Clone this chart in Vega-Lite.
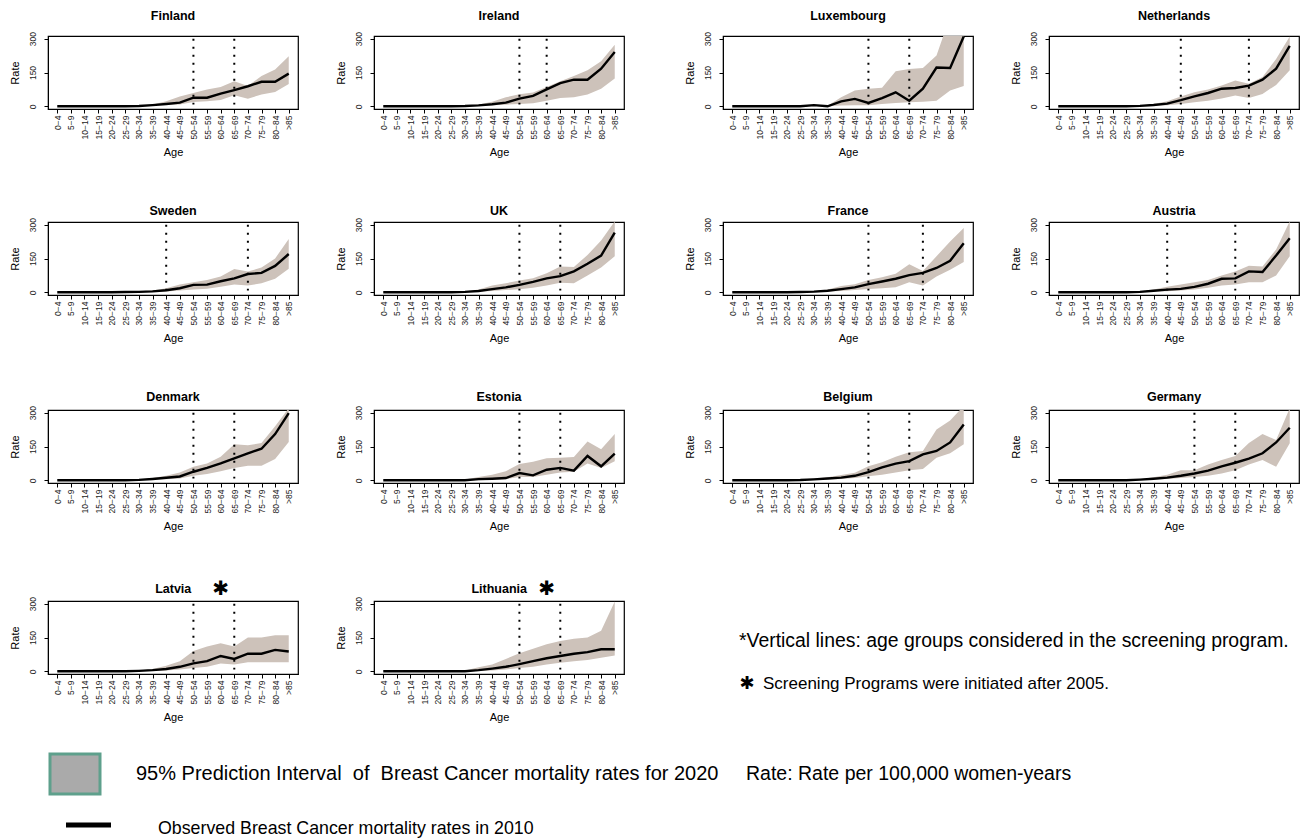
{
"$schema":"https://vega.github.io/schema/vega-lite/v6.json",
"padding":{"left":8,"top":9,"right":0,"bottom":0},
"background":"white",
"datasets":{
"rates":[
{"c":"Finland","a":"0-4","r":0,"lo":0,"hi":0},{"c":"Finland","a":"5-9","r":0,"lo":0,"hi":0},{"c":"Finland","a":"10-14","r":0,"lo":0,"hi":0},{"c":"Finland","a":"15-19","r":0,"lo":0,"hi":0},{"c":"Finland","a":"20-24","r":0,"lo":0,"hi":0},{"c":"Finland","a":"25-29","r":0,"lo":0,"hi":1},{"c":"Finland","a":"30-34","r":1,"lo":0,"hi":3},{"c":"Finland","a":"35-39","r":5,"lo":3,"hi":8},{"c":"Finland","a":"40-44","r":10,"lo":6,"hi":22},{"c":"Finland","a":"45-49","r":16,"lo":8,"hi":44},{"c":"Finland","a":"50-54","r":38,"lo":19,"hi":59},{"c":"Finland","a":"55-59","r":38,"lo":22,"hi":74},{"c":"Finland","a":"60-64","r":56,"lo":28,"hi":86},{"c":"Finland","a":"65-69","r":72,"lo":49,"hi":111},{"c":"Finland","a":"70-74","r":89,"lo":34,"hi":90},{"c":"Finland","a":"75-79","r":109,"lo":52,"hi":135},{"c":"Finland","a":"80-84","r":109,"lo":64,"hi":163},{"c":"Finland","a":">85","r":145,"lo":99,"hi":222},
{"c":"Ireland","a":"0-4","r":0,"lo":0,"hi":0},{"c":"Ireland","a":"5-9","r":0,"lo":0,"hi":0},{"c":"Ireland","a":"10-14","r":0,"lo":0,"hi":0},{"c":"Ireland","a":"15-19","r":0,"lo":0,"hi":0},{"c":"Ireland","a":"20-24","r":0,"lo":0,"hi":0},{"c":"Ireland","a":"25-29","r":0,"lo":0,"hi":1},{"c":"Ireland","a":"30-34","r":1,"lo":0,"hi":3},{"c":"Ireland","a":"35-39","r":4,"lo":2,"hi":8},{"c":"Ireland","a":"40-44","r":9,"lo":5,"hi":20},{"c":"Ireland","a":"45-49","r":16,"lo":7,"hi":40},{"c":"Ireland","a":"50-54","r":34,"lo":10,"hi":53},{"c":"Ireland","a":"55-59","r":46,"lo":13,"hi":61},{"c":"Ireland","a":"60-64","r":75,"lo":25,"hi":86},{"c":"Ireland","a":"65-69","r":103,"lo":37,"hi":111},{"c":"Ireland","a":"70-74","r":118,"lo":40,"hi":134},{"c":"Ireland","a":"75-79","r":118,"lo":52,"hi":160},{"c":"Ireland","a":"80-84","r":167,"lo":78,"hi":200},{"c":"Ireland","a":">85","r":241,"lo":123,"hi":273},
{"c":"Luxembourg","a":"0-4","r":0,"lo":0,"hi":0},{"c":"Luxembourg","a":"5-9","r":0,"lo":0,"hi":0},{"c":"Luxembourg","a":"10-14","r":0,"lo":0,"hi":0},{"c":"Luxembourg","a":"15-19","r":0,"lo":0,"hi":0},{"c":"Luxembourg","a":"20-24","r":0,"lo":0,"hi":0},{"c":"Luxembourg","a":"25-29","r":0,"lo":0,"hi":0},{"c":"Luxembourg","a":"30-34","r":5,"lo":0,"hi":5},{"c":"Luxembourg","a":"35-39","r":0,"lo":0,"hi":2},{"c":"Luxembourg","a":"40-44","r":22,"lo":3,"hi":40},{"c":"Luxembourg","a":"45-49","r":33,"lo":5,"hi":70},{"c":"Luxembourg","a":"50-54","r":15,"lo":5,"hi":78},{"c":"Luxembourg","a":"55-59","r":36,"lo":10,"hi":82},{"c":"Luxembourg","a":"60-64","r":62,"lo":15,"hi":155},{"c":"Luxembourg","a":"65-69","r":25,"lo":18,"hi":165},{"c":"Luxembourg","a":"70-74","r":78,"lo":20,"hi":170},{"c":"Luxembourg","a":"75-79","r":172,"lo":25,"hi":225},{"c":"Luxembourg","a":"80-84","r":170,"lo":70,"hi":400},{"c":"Luxembourg","a":">85","r":310,"lo":90,"hi":400},
{"c":"Netherlands","a":"0-4","r":0,"lo":0,"hi":0},{"c":"Netherlands","a":"5-9","r":0,"lo":0,"hi":0},{"c":"Netherlands","a":"10-14","r":0,"lo":0,"hi":0},{"c":"Netherlands","a":"15-19","r":0,"lo":0,"hi":0},{"c":"Netherlands","a":"20-24","r":0,"lo":0,"hi":0},{"c":"Netherlands","a":"25-29","r":0,"lo":0,"hi":1},{"c":"Netherlands","a":"30-34","r":2,"lo":0,"hi":4},{"c":"Netherlands","a":"35-39","r":6,"lo":2,"hi":10},{"c":"Netherlands","a":"40-44","r":12,"lo":5,"hi":22},{"c":"Netherlands","a":"45-49","r":27,"lo":10,"hi":44},{"c":"Netherlands","a":"50-54","r":44,"lo":18,"hi":62},{"c":"Netherlands","a":"55-59","r":59,"lo":25,"hi":74},{"c":"Netherlands","a":"60-64","r":78,"lo":35,"hi":92},{"c":"Netherlands","a":"65-69","r":81,"lo":48,"hi":115},{"c":"Netherlands","a":"70-74","r":92,"lo":37,"hi":100},{"c":"Netherlands","a":"75-79","r":118,"lo":55,"hi":130},{"c":"Netherlands","a":"80-84","r":167,"lo":95,"hi":210},{"c":"Netherlands","a":">85","r":268,"lo":160,"hi":310},
{"c":"Sweden","a":"0-4","r":0,"lo":0,"hi":0},{"c":"Sweden","a":"5-9","r":0,"lo":0,"hi":0},{"c":"Sweden","a":"10-14","r":0,"lo":0,"hi":0},{"c":"Sweden","a":"15-19","r":0,"lo":0,"hi":0},{"c":"Sweden","a":"20-24","r":0,"lo":0,"hi":1},{"c":"Sweden","a":"25-29","r":1,"lo":0,"hi":3},{"c":"Sweden","a":"30-34","r":2,"lo":0,"hi":5},{"c":"Sweden","a":"35-39","r":4,"lo":2,"hi":8},{"c":"Sweden","a":"40-44","r":9,"lo":4,"hi":18},{"c":"Sweden","a":"45-49","r":18,"lo":8,"hi":35},{"c":"Sweden","a":"50-54","r":33,"lo":12,"hi":45},{"c":"Sweden","a":"55-59","r":34,"lo":16,"hi":55},{"c":"Sweden","a":"60-64","r":49,"lo":25,"hi":70},{"c":"Sweden","a":"65-69","r":62,"lo":35,"hi":103},{"c":"Sweden","a":"70-74","r":81,"lo":30,"hi":92},{"c":"Sweden","a":"75-79","r":86,"lo":40,"hi":110},{"c":"Sweden","a":"80-84","r":117,"lo":60,"hi":150},{"c":"Sweden","a":">85","r":170,"lo":105,"hi":237},
{"c":"UK","a":"0-4","r":0,"lo":0,"hi":0},{"c":"UK","a":"5-9","r":0,"lo":0,"hi":0},{"c":"UK","a":"10-14","r":0,"lo":0,"hi":0},{"c":"UK","a":"15-19","r":0,"lo":0,"hi":0},{"c":"UK","a":"20-24","r":0,"lo":0,"hi":0},{"c":"UK","a":"25-29","r":0,"lo":0,"hi":1},{"c":"UK","a":"30-34","r":2,"lo":0,"hi":4},{"c":"UK","a":"35-39","r":6,"lo":2,"hi":12},{"c":"UK","a":"40-44","r":14,"lo":6,"hi":30},{"c":"UK","a":"45-49","r":22,"lo":10,"hi":40},{"c":"UK","a":"50-54","r":33,"lo":14,"hi":52},{"c":"UK","a":"55-59","r":46,"lo":20,"hi":62},{"c":"UK","a":"60-64","r":62,"lo":30,"hi":85},{"c":"UK","a":"65-69","r":72,"lo":42,"hi":115},{"c":"UK","a":"70-74","r":93,"lo":40,"hi":112},{"c":"UK","a":"75-79","r":127,"lo":75,"hi":165},{"c":"UK","a":"80-84","r":163,"lo":110,"hi":230},{"c":"UK","a":">85","r":265,"lo":160,"hi":315},
{"c":"France","a":"0-4","r":0,"lo":0,"hi":0},{"c":"France","a":"5-9","r":0,"lo":0,"hi":0},{"c":"France","a":"10-14","r":0,"lo":0,"hi":0},{"c":"France","a":"15-19","r":0,"lo":0,"hi":0},{"c":"France","a":"20-24","r":0,"lo":0,"hi":1},{"c":"France","a":"25-29","r":1,"lo":0,"hi":2},{"c":"France","a":"30-34","r":3,"lo":1,"hi":5},{"c":"France","a":"35-39","r":7,"lo":3,"hi":12},{"c":"France","a":"40-44","r":14,"lo":6,"hi":28},{"c":"France","a":"45-49","r":22,"lo":10,"hi":36},{"c":"France","a":"50-54","r":36,"lo":15,"hi":55},{"c":"France","a":"55-59","r":48,"lo":18,"hi":67},{"c":"France","a":"60-64","r":60,"lo":22,"hi":82},{"c":"France","a":"65-69","r":76,"lo":45,"hi":125},{"c":"France","a":"70-74","r":86,"lo":30,"hi":95},{"c":"France","a":"75-79","r":108,"lo":70,"hi":160},{"c":"France","a":"80-84","r":140,"lo":100,"hi":225},{"c":"France","a":">85","r":218,"lo":135,"hi":285},
{"c":"Austria","a":"0-4","r":0,"lo":0,"hi":0},{"c":"Austria","a":"5-9","r":0,"lo":0,"hi":0},{"c":"Austria","a":"10-14","r":0,"lo":0,"hi":0},{"c":"Austria","a":"15-19","r":0,"lo":0,"hi":0},{"c":"Austria","a":"20-24","r":0,"lo":0,"hi":0},{"c":"Austria","a":"25-29","r":0,"lo":0,"hi":1},{"c":"Austria","a":"30-34","r":2,"lo":0,"hi":4},{"c":"Austria","a":"35-39","r":7,"lo":3,"hi":12},{"c":"Austria","a":"40-44","r":12,"lo":5,"hi":25},{"c":"Austria","a":"45-49","r":15,"lo":8,"hi":35},{"c":"Austria","a":"50-54","r":24,"lo":12,"hi":45},{"c":"Austria","a":"55-59","r":38,"lo":20,"hi":55},{"c":"Austria","a":"60-64","r":60,"lo":30,"hi":75},{"c":"Austria","a":"65-69","r":62,"lo":35,"hi":92},{"c":"Austria","a":"70-74","r":93,"lo":45,"hi":118},{"c":"Austria","a":"75-79","r":90,"lo":45,"hi":115},{"c":"Austria","a":"80-84","r":163,"lo":75,"hi":190},{"c":"Austria","a":">85","r":240,"lo":160,"hi":315},
{"c":"Denmark","a":"0-4","r":0,"lo":0,"hi":0},{"c":"Denmark","a":"5-9","r":0,"lo":0,"hi":0},{"c":"Denmark","a":"10-14","r":0,"lo":0,"hi":0},{"c":"Denmark","a":"15-19","r":0,"lo":0,"hi":0},{"c":"Denmark","a":"20-24","r":0,"lo":0,"hi":0},{"c":"Denmark","a":"25-29","r":0,"lo":0,"hi":1},{"c":"Denmark","a":"30-34","r":2,"lo":0,"hi":4},{"c":"Denmark","a":"35-39","r":6,"lo":3,"hi":10},{"c":"Denmark","a":"40-44","r":11,"lo":5,"hi":20},{"c":"Denmark","a":"45-49","r":17,"lo":8,"hi":35},{"c":"Denmark","a":"50-54","r":38,"lo":20,"hi":60},{"c":"Denmark","a":"55-59","r":55,"lo":28,"hi":75},{"c":"Denmark","a":"60-64","r":75,"lo":40,"hi":105},{"c":"Denmark","a":"65-69","r":97,"lo":55,"hi":160},{"c":"Denmark","a":"70-74","r":120,"lo":65,"hi":155},{"c":"Denmark","a":"75-79","r":140,"lo":65,"hi":165},{"c":"Denmark","a":"80-84","r":205,"lo":95,"hi":240},{"c":"Denmark","a":">85","r":298,"lo":170,"hi":320},
{"c":"Estonia","a":"0-4","r":0,"lo":0,"hi":0},{"c":"Estonia","a":"5-9","r":0,"lo":0,"hi":0},{"c":"Estonia","a":"10-14","r":0,"lo":0,"hi":0},{"c":"Estonia","a":"15-19","r":0,"lo":0,"hi":0},{"c":"Estonia","a":"20-24","r":0,"lo":0,"hi":0},{"c":"Estonia","a":"25-29","r":0,"lo":0,"hi":0},{"c":"Estonia","a":"30-34","r":0,"lo":0,"hi":3},{"c":"Estonia","a":"35-39","r":5,"lo":0,"hi":15},{"c":"Estonia","a":"40-44","r":7,"lo":2,"hi":25},{"c":"Estonia","a":"45-49","r":10,"lo":5,"hi":40},{"c":"Estonia","a":"50-54","r":32,"lo":15,"hi":72},{"c":"Estonia","a":"55-59","r":22,"lo":15,"hi":82},{"c":"Estonia","a":"60-64","r":47,"lo":25,"hi":98},{"c":"Estonia","a":"65-69","r":55,"lo":35,"hi":100},{"c":"Estonia","a":"70-74","r":43,"lo":38,"hi":103},{"c":"Estonia","a":"75-79","r":108,"lo":75,"hi":172},{"c":"Estonia","a":"80-84","r":62,"lo":55,"hi":138},{"c":"Estonia","a":">85","r":118,"lo":85,"hi":205},
{"c":"Belgium","a":"0-4","r":0,"lo":0,"hi":0},{"c":"Belgium","a":"5-9","r":0,"lo":0,"hi":0},{"c":"Belgium","a":"10-14","r":0,"lo":0,"hi":0},{"c":"Belgium","a":"15-19","r":0,"lo":0,"hi":0},{"c":"Belgium","a":"20-24","r":0,"lo":0,"hi":1},{"c":"Belgium","a":"25-29","r":1,"lo":0,"hi":3},{"c":"Belgium","a":"30-34","r":4,"lo":1,"hi":8},{"c":"Belgium","a":"35-39","r":8,"lo":4,"hi":14},{"c":"Belgium","a":"40-44","r":12,"lo":6,"hi":24},{"c":"Belgium","a":"45-49","r":20,"lo":10,"hi":34},{"c":"Belgium","a":"50-54","r":36,"lo":18,"hi":62},{"c":"Belgium","a":"55-59","r":57,"lo":25,"hi":80},{"c":"Belgium","a":"60-64","r":74,"lo":35,"hi":105},{"c":"Belgium","a":"65-69","r":85,"lo":45,"hi":125},{"c":"Belgium","a":"70-74","r":115,"lo":50,"hi":130},{"c":"Belgium","a":"75-79","r":130,"lo":100,"hi":225},{"c":"Belgium","a":"80-84","r":168,"lo":120,"hi":265},{"c":"Belgium","a":">85","r":248,"lo":160,"hi":330},
{"c":"Germany","a":"0-4","r":0,"lo":0,"hi":0},{"c":"Germany","a":"5-9","r":0,"lo":0,"hi":0},{"c":"Germany","a":"10-14","r":0,"lo":0,"hi":0},{"c":"Germany","a":"15-19","r":0,"lo":0,"hi":0},{"c":"Germany","a":"20-24","r":0,"lo":0,"hi":0},{"c":"Germany","a":"25-29","r":0,"lo":0,"hi":1},{"c":"Germany","a":"30-34","r":3,"lo":1,"hi":5},{"c":"Germany","a":"35-39","r":7,"lo":3,"hi":14},{"c":"Germany","a":"40-44","r":12,"lo":6,"hi":25},{"c":"Germany","a":"45-49","r":20,"lo":10,"hi":45},{"c":"Germany","a":"50-54","r":30,"lo":15,"hi":45},{"c":"Germany","a":"55-59","r":43,"lo":20,"hi":70},{"c":"Germany","a":"60-64","r":62,"lo":30,"hi":90},{"c":"Germany","a":"65-69","r":78,"lo":45,"hi":108},{"c":"Germany","a":"70-74","r":96,"lo":70,"hi":165},{"c":"Germany","a":"75-79","r":120,"lo":90,"hi":205},{"c":"Germany","a":"80-84","r":168,"lo":60,"hi":179},{"c":"Germany","a":">85","r":233,"lo":164,"hi":320},
{"c":"Latvia","a":"0-4","r":0,"lo":0,"hi":0},{"c":"Latvia","a":"5-9","r":0,"lo":0,"hi":0},{"c":"Latvia","a":"10-14","r":0,"lo":0,"hi":0},{"c":"Latvia","a":"15-19","r":0,"lo":0,"hi":0},{"c":"Latvia","a":"20-24","r":0,"lo":0,"hi":0},{"c":"Latvia","a":"25-29","r":0,"lo":0,"hi":1},{"c":"Latvia","a":"30-34","r":2,"lo":0,"hi":4},{"c":"Latvia","a":"35-39","r":5,"lo":1,"hi":10},{"c":"Latvia","a":"40-44","r":10,"lo":3,"hi":25},{"c":"Latvia","a":"45-49","r":20,"lo":8,"hi":45},{"c":"Latvia","a":"50-54","r":35,"lo":15,"hi":90},{"c":"Latvia","a":"55-59","r":45,"lo":20,"hi":110},{"c":"Latvia","a":"60-64","r":68,"lo":35,"hi":125},{"c":"Latvia","a":"65-69","r":55,"lo":30,"hi":110},{"c":"Latvia","a":"70-74","r":78,"lo":40,"hi":150},{"c":"Latvia","a":"75-79","r":78,"lo":40,"hi":150},{"c":"Latvia","a":"80-84","r":95,"lo":40,"hi":160},{"c":"Latvia","a":">85","r":88,"lo":40,"hi":160},
{"c":"Lithuania","a":"0-4","r":0,"lo":0,"hi":0},{"c":"Lithuania","a":"5-9","r":0,"lo":0,"hi":0},{"c":"Lithuania","a":"10-14","r":0,"lo":0,"hi":0},{"c":"Lithuania","a":"15-19","r":0,"lo":0,"hi":0},{"c":"Lithuania","a":"20-24","r":0,"lo":0,"hi":0},{"c":"Lithuania","a":"25-29","r":0,"lo":0,"hi":0},{"c":"Lithuania","a":"30-34","r":0,"lo":0,"hi":3},{"c":"Lithuania","a":"35-39","r":5,"lo":2,"hi":18},{"c":"Lithuania","a":"40-44","r":12,"lo":4,"hi":30},{"c":"Lithuania","a":"45-49","r":20,"lo":8,"hi":55},{"c":"Lithuania","a":"50-54","r":32,"lo":15,"hi":80},{"c":"Lithuania","a":"55-59","r":45,"lo":20,"hi":100},{"c":"Lithuania","a":"60-64","r":58,"lo":30,"hi":120},{"c":"Lithuania","a":"65-69","r":68,"lo":38,"hi":135},{"c":"Lithuania","a":"70-74","r":78,"lo":45,"hi":145},{"c":"Lithuania","a":"75-79","r":85,"lo":50,"hi":150},{"c":"Lithuania","a":"80-84","r":98,"lo":60,"hi":180},{"c":"Lithuania","a":">85","r":98,"lo":70,"hi":310}
],
"screen":[
{"c":"Finland","a":"50-54"},{"c":"Finland","a":"65-69"},
{"c":"Ireland","a":"50-54"},{"c":"Ireland","a":"60-64"},
{"c":"Luxembourg","a":"50-54"},{"c":"Luxembourg","a":"65-69"},
{"c":"Netherlands","a":"45-49"},{"c":"Netherlands","a":"70-74"},
{"c":"Sweden","a":"40-44"},{"c":"Sweden","a":"70-74"},
{"c":"UK","a":"50-54"},{"c":"UK","a":"65-69"},
{"c":"France","a":"50-54"},{"c":"France","a":"70-74"},
{"c":"Austria","a":"40-44"},{"c":"Austria","a":"65-69"},
{"c":"Denmark","a":"50-54"},{"c":"Denmark","a":"65-69"},
{"c":"Estonia","a":"50-54"},{"c":"Estonia","a":"65-69"},
{"c":"Belgium","a":"50-54"},{"c":"Belgium","a":"65-69"},
{"c":"Germany","a":"50-54"},{"c":"Germany","a":"65-69"},
{"c":"Latvia","a":"50-54"},{"c":"Latvia","a":"65-69"},
{"c":"Lithuania","a":"50-54"},{"c":"Lithuania","a":"65-69"}
],
"heads":[
{"c":"Latvia","a":"40-44","s":"Latvia","k":"title"},{"c":"Latvia","a":"60-64","s":"✱","k":"star"},
{"c":"Lithuania","a":"40-44","s":"Lithuania","k":"title"},{"c":"Lithuania","a":"60-64","s":"✱","k":"star"}
]
},
"vconcat":[
{"spacing":45,"vconcat":[
{"spacing":58,"hconcat":[
{"spacing":35,"hconcat":[
{"title":{"text":"Finland","offset":9},"width":250,"height":73,"encoding":{"x":{"field":"a","type":"ordinal","title":"Age","scale":{"type":"point","padding":0.68,"domain":["0-4","5-9","10-14","15-19","20-24","25-29","30-34","35-39","40-44","45-49","50-54","55-59","60-64","65-69","70-74","75-79","80-84",">85"]}}},"layer":[
{"data":{"name":"rates"},"transform":[{"filter":"datum.c==='Finland'"}],"mark":{"type":"area","color":"#cdc2ba","clip":true},"encoding":{"y":{"field":"lo","type":"quantitative","title":"Rate","scale":{"domain":[-12,312],"nice":false,"zero":false},"axis":{"values":[0,150,300],"tickCount":3,"labelOverlap":false,"title":"Rate"}},"y2":{"field":"hi"}}},
{"data":{"name":"rates"},"transform":[{"filter":"datum.c==='Finland'"}],"mark":{"type":"line","color":"black","strokeWidth":2.4,"clip":true},"encoding":{"y":{"field":"r","type":"quantitative","title":"Rate","scale":{"domain":[-12,312],"nice":false,"zero":false},"axis":{"values":[0,150,300],"tickCount":3,"labelOverlap":false,"title":"Rate"}}}},
{"data":{"name":"screen"},"transform":[{"filter":"datum.c==='Finland'"}],"mark":{"type":"rule","color":"black","strokeWidth":2,"strokeDash":[2,6]},"encoding":{"y":{"datum":300,"type":"quantitative","scale":{"domain":[-12,312],"nice":false,"zero":false},"axis":{"values":[0,150,300],"tickCount":3,"labelOverlap":false,"title":"Rate"}},"y2":{"datum":8}}}
]},
{"title":{"text":"Ireland","offset":9},"width":250,"height":73,"encoding":{"x":{"field":"a","type":"ordinal","title":"Age","scale":{"type":"point","padding":0.68,"domain":["0-4","5-9","10-14","15-19","20-24","25-29","30-34","35-39","40-44","45-49","50-54","55-59","60-64","65-69","70-74","75-79","80-84",">85"]}}},"layer":[
{"data":{"name":"rates"},"transform":[{"filter":"datum.c==='Ireland'"}],"mark":{"type":"area","color":"#cdc2ba","clip":true},"encoding":{"y":{"field":"lo","type":"quantitative","title":"Rate","scale":{"domain":[-12,312],"nice":false,"zero":false},"axis":{"values":[0,150,300],"tickCount":3,"labelOverlap":false,"title":"Rate"}},"y2":{"field":"hi"}}},
{"data":{"name":"rates"},"transform":[{"filter":"datum.c==='Ireland'"}],"mark":{"type":"line","color":"black","strokeWidth":2.4,"clip":true},"encoding":{"y":{"field":"r","type":"quantitative","title":"Rate","scale":{"domain":[-12,312],"nice":false,"zero":false},"axis":{"values":[0,150,300],"tickCount":3,"labelOverlap":false,"title":"Rate"}}}},
{"data":{"name":"screen"},"transform":[{"filter":"datum.c==='Ireland'"}],"mark":{"type":"rule","color":"black","strokeWidth":2,"strokeDash":[2,6]},"encoding":{"y":{"datum":300,"type":"quantitative","scale":{"domain":[-12,312],"nice":false,"zero":false},"axis":{"values":[0,150,300],"tickCount":3,"labelOverlap":false,"title":"Rate"}},"y2":{"datum":8}}}
]}
]},
{"spacing":35,"hconcat":[
{"title":{"text":"Luxembourg","offset":9},"width":250,"height":73,"encoding":{"x":{"field":"a","type":"ordinal","title":"Age","scale":{"type":"point","padding":0.68,"domain":["0-4","5-9","10-14","15-19","20-24","25-29","30-34","35-39","40-44","45-49","50-54","55-59","60-64","65-69","70-74","75-79","80-84",">85"]}}},"layer":[
{"data":{"name":"rates"},"transform":[{"filter":"datum.c==='Luxembourg'"}],"mark":{"type":"area","color":"#cdc2ba","clip":true},"encoding":{"y":{"field":"lo","type":"quantitative","title":"Rate","scale":{"domain":[-12,312],"nice":false,"zero":false},"axis":{"values":[0,150,300],"tickCount":3,"labelOverlap":false,"title":"Rate"}},"y2":{"field":"hi"}}},
{"data":{"name":"rates"},"transform":[{"filter":"datum.c==='Luxembourg'"}],"mark":{"type":"line","color":"black","strokeWidth":2.4,"clip":true},"encoding":{"y":{"field":"r","type":"quantitative","title":"Rate","scale":{"domain":[-12,312],"nice":false,"zero":false},"axis":{"values":[0,150,300],"tickCount":3,"labelOverlap":false,"title":"Rate"}}}},
{"data":{"name":"screen"},"transform":[{"filter":"datum.c==='Luxembourg'"}],"mark":{"type":"rule","color":"black","strokeWidth":2,"strokeDash":[2,6]},"encoding":{"y":{"datum":300,"type":"quantitative","scale":{"domain":[-12,312],"nice":false,"zero":false},"axis":{"values":[0,150,300],"tickCount":3,"labelOverlap":false,"title":"Rate"}},"y2":{"datum":8}}}
]},
{"title":{"text":"Netherlands","offset":9},"width":250,"height":73,"encoding":{"x":{"field":"a","type":"ordinal","title":"Age","scale":{"type":"point","padding":0.68,"domain":["0-4","5-9","10-14","15-19","20-24","25-29","30-34","35-39","40-44","45-49","50-54","55-59","60-64","65-69","70-74","75-79","80-84",">85"]}}},"layer":[
{"data":{"name":"rates"},"transform":[{"filter":"datum.c==='Netherlands'"}],"mark":{"type":"area","color":"#cdc2ba","clip":true},"encoding":{"y":{"field":"lo","type":"quantitative","title":"Rate","scale":{"domain":[-12,312],"nice":false,"zero":false},"axis":{"values":[0,150,300],"tickCount":3,"labelOverlap":false,"title":"Rate"}},"y2":{"field":"hi"}}},
{"data":{"name":"rates"},"transform":[{"filter":"datum.c==='Netherlands'"}],"mark":{"type":"line","color":"black","strokeWidth":2.4,"clip":true},"encoding":{"y":{"field":"r","type":"quantitative","title":"Rate","scale":{"domain":[-12,312],"nice":false,"zero":false},"axis":{"values":[0,150,300],"tickCount":3,"labelOverlap":false,"title":"Rate"}}}},
{"data":{"name":"screen"},"transform":[{"filter":"datum.c==='Netherlands'"}],"mark":{"type":"rule","color":"black","strokeWidth":2,"strokeDash":[2,6]},"encoding":{"y":{"datum":300,"type":"quantitative","scale":{"domain":[-12,312],"nice":false,"zero":false},"axis":{"values":[0,150,300],"tickCount":3,"labelOverlap":false,"title":"Rate"}},"y2":{"datum":8}}}
]}
]}
]},
{"spacing":58,"hconcat":[
{"spacing":35,"hconcat":[
{"title":{"text":"Sweden","offset":0},"width":250,"height":73,"encoding":{"x":{"field":"a","type":"ordinal","title":"Age","scale":{"type":"point","padding":0.68,"domain":["0-4","5-9","10-14","15-19","20-24","25-29","30-34","35-39","40-44","45-49","50-54","55-59","60-64","65-69","70-74","75-79","80-84",">85"]}}},"layer":[
{"data":{"name":"rates"},"transform":[{"filter":"datum.c==='Sweden'"}],"mark":{"type":"area","color":"#cdc2ba","clip":true},"encoding":{"y":{"field":"lo","type":"quantitative","title":"Rate","scale":{"domain":[-12,312],"nice":false,"zero":false},"axis":{"values":[0,150,300],"tickCount":3,"labelOverlap":false,"title":"Rate"}},"y2":{"field":"hi"}}},
{"data":{"name":"rates"},"transform":[{"filter":"datum.c==='Sweden'"}],"mark":{"type":"line","color":"black","strokeWidth":2.4,"clip":true},"encoding":{"y":{"field":"r","type":"quantitative","title":"Rate","scale":{"domain":[-12,312],"nice":false,"zero":false},"axis":{"values":[0,150,300],"tickCount":3,"labelOverlap":false,"title":"Rate"}}}},
{"data":{"name":"screen"},"transform":[{"filter":"datum.c==='Sweden'"}],"mark":{"type":"rule","color":"black","strokeWidth":2,"strokeDash":[2,6]},"encoding":{"y":{"datum":300,"type":"quantitative","scale":{"domain":[-12,312],"nice":false,"zero":false},"axis":{"values":[0,150,300],"tickCount":3,"labelOverlap":false,"title":"Rate"}},"y2":{"datum":8}}}
]},
{"title":{"text":"UK","offset":0},"width":250,"height":73,"encoding":{"x":{"field":"a","type":"ordinal","title":"Age","scale":{"type":"point","padding":0.68,"domain":["0-4","5-9","10-14","15-19","20-24","25-29","30-34","35-39","40-44","45-49","50-54","55-59","60-64","65-69","70-74","75-79","80-84",">85"]}}},"layer":[
{"data":{"name":"rates"},"transform":[{"filter":"datum.c==='UK'"}],"mark":{"type":"area","color":"#cdc2ba","clip":true},"encoding":{"y":{"field":"lo","type":"quantitative","title":"Rate","scale":{"domain":[-12,312],"nice":false,"zero":false},"axis":{"values":[0,150,300],"tickCount":3,"labelOverlap":false,"title":"Rate"}},"y2":{"field":"hi"}}},
{"data":{"name":"rates"},"transform":[{"filter":"datum.c==='UK'"}],"mark":{"type":"line","color":"black","strokeWidth":2.4,"clip":true},"encoding":{"y":{"field":"r","type":"quantitative","title":"Rate","scale":{"domain":[-12,312],"nice":false,"zero":false},"axis":{"values":[0,150,300],"tickCount":3,"labelOverlap":false,"title":"Rate"}}}},
{"data":{"name":"screen"},"transform":[{"filter":"datum.c==='UK'"}],"mark":{"type":"rule","color":"black","strokeWidth":2,"strokeDash":[2,6]},"encoding":{"y":{"datum":300,"type":"quantitative","scale":{"domain":[-12,312],"nice":false,"zero":false},"axis":{"values":[0,150,300],"tickCount":3,"labelOverlap":false,"title":"Rate"}},"y2":{"datum":8}}}
]}
]},
{"spacing":35,"hconcat":[
{"title":{"text":"France","offset":0},"width":250,"height":73,"encoding":{"x":{"field":"a","type":"ordinal","title":"Age","scale":{"type":"point","padding":0.68,"domain":["0-4","5-9","10-14","15-19","20-24","25-29","30-34","35-39","40-44","45-49","50-54","55-59","60-64","65-69","70-74","75-79","80-84",">85"]}}},"layer":[
{"data":{"name":"rates"},"transform":[{"filter":"datum.c==='France'"}],"mark":{"type":"area","color":"#cdc2ba","clip":true},"encoding":{"y":{"field":"lo","type":"quantitative","title":"Rate","scale":{"domain":[-12,312],"nice":false,"zero":false},"axis":{"values":[0,150,300],"tickCount":3,"labelOverlap":false,"title":"Rate"}},"y2":{"field":"hi"}}},
{"data":{"name":"rates"},"transform":[{"filter":"datum.c==='France'"}],"mark":{"type":"line","color":"black","strokeWidth":2.4,"clip":true},"encoding":{"y":{"field":"r","type":"quantitative","title":"Rate","scale":{"domain":[-12,312],"nice":false,"zero":false},"axis":{"values":[0,150,300],"tickCount":3,"labelOverlap":false,"title":"Rate"}}}},
{"data":{"name":"screen"},"transform":[{"filter":"datum.c==='France'"}],"mark":{"type":"rule","color":"black","strokeWidth":2,"strokeDash":[2,6]},"encoding":{"y":{"datum":300,"type":"quantitative","scale":{"domain":[-12,312],"nice":false,"zero":false},"axis":{"values":[0,150,300],"tickCount":3,"labelOverlap":false,"title":"Rate"}},"y2":{"datum":8}}}
]},
{"title":{"text":"Austria","offset":0},"width":250,"height":73,"encoding":{"x":{"field":"a","type":"ordinal","title":"Age","scale":{"type":"point","padding":0.68,"domain":["0-4","5-9","10-14","15-19","20-24","25-29","30-34","35-39","40-44","45-49","50-54","55-59","60-64","65-69","70-74","75-79","80-84",">85"]}}},"layer":[
{"data":{"name":"rates"},"transform":[{"filter":"datum.c==='Austria'"}],"mark":{"type":"area","color":"#cdc2ba","clip":true},"encoding":{"y":{"field":"lo","type":"quantitative","title":"Rate","scale":{"domain":[-12,312],"nice":false,"zero":false},"axis":{"values":[0,150,300],"tickCount":3,"labelOverlap":false,"title":"Rate"}},"y2":{"field":"hi"}}},
{"data":{"name":"rates"},"transform":[{"filter":"datum.c==='Austria'"}],"mark":{"type":"line","color":"black","strokeWidth":2.4,"clip":true},"encoding":{"y":{"field":"r","type":"quantitative","title":"Rate","scale":{"domain":[-12,312],"nice":false,"zero":false},"axis":{"values":[0,150,300],"tickCount":3,"labelOverlap":false,"title":"Rate"}}}},
{"data":{"name":"screen"},"transform":[{"filter":"datum.c==='Austria'"}],"mark":{"type":"rule","color":"black","strokeWidth":2,"strokeDash":[2,6]},"encoding":{"y":{"datum":300,"type":"quantitative","scale":{"domain":[-12,312],"nice":false,"zero":false},"axis":{"values":[0,150,300],"tickCount":3,"labelOverlap":false,"title":"Rate"}},"y2":{"datum":8}}}
]}
]}
]},
{"spacing":58,"hconcat":[
{"spacing":35,"hconcat":[
{"title":{"text":"Denmark","offset":2},"width":250,"height":73,"encoding":{"x":{"field":"a","type":"ordinal","title":"Age","scale":{"type":"point","padding":0.68,"domain":["0-4","5-9","10-14","15-19","20-24","25-29","30-34","35-39","40-44","45-49","50-54","55-59","60-64","65-69","70-74","75-79","80-84",">85"]}}},"layer":[
{"data":{"name":"rates"},"transform":[{"filter":"datum.c==='Denmark'"}],"mark":{"type":"area","color":"#cdc2ba","clip":true},"encoding":{"y":{"field":"lo","type":"quantitative","title":"Rate","scale":{"domain":[-12,312],"nice":false,"zero":false},"axis":{"values":[0,150,300],"tickCount":3,"labelOverlap":false,"title":"Rate"}},"y2":{"field":"hi"}}},
{"data":{"name":"rates"},"transform":[{"filter":"datum.c==='Denmark'"}],"mark":{"type":"line","color":"black","strokeWidth":2.4,"clip":true},"encoding":{"y":{"field":"r","type":"quantitative","title":"Rate","scale":{"domain":[-12,312],"nice":false,"zero":false},"axis":{"values":[0,150,300],"tickCount":3,"labelOverlap":false,"title":"Rate"}}}},
{"data":{"name":"screen"},"transform":[{"filter":"datum.c==='Denmark'"}],"mark":{"type":"rule","color":"black","strokeWidth":2,"strokeDash":[2,6]},"encoding":{"y":{"datum":300,"type":"quantitative","scale":{"domain":[-12,312],"nice":false,"zero":false},"axis":{"values":[0,150,300],"tickCount":3,"labelOverlap":false,"title":"Rate"}},"y2":{"datum":8}}}
]},
{"title":{"text":"Estonia","offset":2},"width":250,"height":73,"encoding":{"x":{"field":"a","type":"ordinal","title":"Age","scale":{"type":"point","padding":0.68,"domain":["0-4","5-9","10-14","15-19","20-24","25-29","30-34","35-39","40-44","45-49","50-54","55-59","60-64","65-69","70-74","75-79","80-84",">85"]}}},"layer":[
{"data":{"name":"rates"},"transform":[{"filter":"datum.c==='Estonia'"}],"mark":{"type":"area","color":"#cdc2ba","clip":true},"encoding":{"y":{"field":"lo","type":"quantitative","title":"Rate","scale":{"domain":[-12,312],"nice":false,"zero":false},"axis":{"values":[0,150,300],"tickCount":3,"labelOverlap":false,"title":"Rate"}},"y2":{"field":"hi"}}},
{"data":{"name":"rates"},"transform":[{"filter":"datum.c==='Estonia'"}],"mark":{"type":"line","color":"black","strokeWidth":2.4,"clip":true},"encoding":{"y":{"field":"r","type":"quantitative","title":"Rate","scale":{"domain":[-12,312],"nice":false,"zero":false},"axis":{"values":[0,150,300],"tickCount":3,"labelOverlap":false,"title":"Rate"}}}},
{"data":{"name":"screen"},"transform":[{"filter":"datum.c==='Estonia'"}],"mark":{"type":"rule","color":"black","strokeWidth":2,"strokeDash":[2,6]},"encoding":{"y":{"datum":300,"type":"quantitative","scale":{"domain":[-12,312],"nice":false,"zero":false},"axis":{"values":[0,150,300],"tickCount":3,"labelOverlap":false,"title":"Rate"}},"y2":{"datum":8}}}
]}
]},
{"spacing":35,"hconcat":[
{"title":{"text":"Belgium","offset":2},"width":250,"height":73,"encoding":{"x":{"field":"a","type":"ordinal","title":"Age","scale":{"type":"point","padding":0.68,"domain":["0-4","5-9","10-14","15-19","20-24","25-29","30-34","35-39","40-44","45-49","50-54","55-59","60-64","65-69","70-74","75-79","80-84",">85"]}}},"layer":[
{"data":{"name":"rates"},"transform":[{"filter":"datum.c==='Belgium'"}],"mark":{"type":"area","color":"#cdc2ba","clip":true},"encoding":{"y":{"field":"lo","type":"quantitative","title":"Rate","scale":{"domain":[-12,312],"nice":false,"zero":false},"axis":{"values":[0,150,300],"tickCount":3,"labelOverlap":false,"title":"Rate"}},"y2":{"field":"hi"}}},
{"data":{"name":"rates"},"transform":[{"filter":"datum.c==='Belgium'"}],"mark":{"type":"line","color":"black","strokeWidth":2.4,"clip":true},"encoding":{"y":{"field":"r","type":"quantitative","title":"Rate","scale":{"domain":[-12,312],"nice":false,"zero":false},"axis":{"values":[0,150,300],"tickCount":3,"labelOverlap":false,"title":"Rate"}}}},
{"data":{"name":"screen"},"transform":[{"filter":"datum.c==='Belgium'"}],"mark":{"type":"rule","color":"black","strokeWidth":2,"strokeDash":[2,6]},"encoding":{"y":{"datum":300,"type":"quantitative","scale":{"domain":[-12,312],"nice":false,"zero":false},"axis":{"values":[0,150,300],"tickCount":3,"labelOverlap":false,"title":"Rate"}},"y2":{"datum":8}}}
]},
{"title":{"text":"Germany","offset":2},"width":250,"height":73,"encoding":{"x":{"field":"a","type":"ordinal","title":"Age","scale":{"type":"point","padding":0.68,"domain":["0-4","5-9","10-14","15-19","20-24","25-29","30-34","35-39","40-44","45-49","50-54","55-59","60-64","65-69","70-74","75-79","80-84",">85"]}}},"layer":[
{"data":{"name":"rates"},"transform":[{"filter":"datum.c==='Germany'"}],"mark":{"type":"area","color":"#cdc2ba","clip":true},"encoding":{"y":{"field":"lo","type":"quantitative","title":"Rate","scale":{"domain":[-12,312],"nice":false,"zero":false},"axis":{"values":[0,150,300],"tickCount":3,"labelOverlap":false,"title":"Rate"}},"y2":{"field":"hi"}}},
{"data":{"name":"rates"},"transform":[{"filter":"datum.c==='Germany'"}],"mark":{"type":"line","color":"black","strokeWidth":2.4,"clip":true},"encoding":{"y":{"field":"r","type":"quantitative","title":"Rate","scale":{"domain":[-12,312],"nice":false,"zero":false},"axis":{"values":[0,150,300],"tickCount":3,"labelOverlap":false,"title":"Rate"}}}},
{"data":{"name":"screen"},"transform":[{"filter":"datum.c==='Germany'"}],"mark":{"type":"rule","color":"black","strokeWidth":2,"strokeDash":[2,6]},"encoding":{"y":{"datum":300,"type":"quantitative","scale":{"domain":[-12,312],"nice":false,"zero":false},"axis":{"values":[0,150,300],"tickCount":3,"labelOverlap":false,"title":"Rate"}},"y2":{"datum":8}}}
]}
]}
]},
{"spacing":114,"hconcat":[
{"spacing":35,"hconcat":[
{"width":250,"height":73,"encoding":{"x":{"field":"a","type":"ordinal","title":"Age","scale":{"type":"point","padding":0.68,"domain":["0-4","5-9","10-14","15-19","20-24","25-29","30-34","35-39","40-44","45-49","50-54","55-59","60-64","65-69","70-74","75-79","80-84",">85"]}}},"layer":[
{"data":{"name":"rates"},"transform":[{"filter":"datum.c==='Latvia'"}],"mark":{"type":"area","color":"#cdc2ba","clip":true},"encoding":{"y":{"field":"lo","type":"quantitative","title":"Rate","scale":{"domain":[-12,312],"nice":false,"zero":false},"axis":{"values":[0,150,300],"tickCount":3,"labelOverlap":false,"title":"Rate"}},"y2":{"field":"hi"}}},
{"data":{"name":"rates"},"transform":[{"filter":"datum.c==='Latvia'"}],"mark":{"type":"line","color":"black","strokeWidth":2.4,"clip":true},"encoding":{"y":{"field":"r","type":"quantitative","title":"Rate","scale":{"domain":[-12,312],"nice":false,"zero":false},"axis":{"values":[0,150,300],"tickCount":3,"labelOverlap":false,"title":"Rate"}}}},
{"data":{"name":"screen"},"transform":[{"filter":"datum.c==='Latvia'"}],"mark":{"type":"rule","color":"black","strokeWidth":2,"strokeDash":[2,6]},"encoding":{"y":{"datum":300,"type":"quantitative","scale":{"domain":[-12,312],"nice":false,"zero":false},"axis":{"values":[0,150,300],"tickCount":3,"labelOverlap":false,"title":"Rate"}},"y2":{"datum":8}}},
{"data":{"name":"heads"},"transform":[{"filter":"datum.c==='Latvia' && datum.k==='title'"}],"mark":{"type":"text","fontSize":12.5,"fontWeight":"bold","baseline":"middle","color":"black","dx":7},"encoding":{"y":{"datum":365,"type":"quantitative","scale":{"domain":[-12,312],"nice":false,"zero":false},"axis":{"values":[0,150,300],"tickCount":3,"labelOverlap":false,"title":"Rate"}},"text":{"field":"s"}}},
{"data":{"name":"heads"},"transform":[{"filter":"datum.c==='Latvia' && datum.k==='star'"}],"mark":{"type":"text","font":"DejaVu Sans","fontSize":20,"fontWeight":"bold","baseline":"middle","color":"black"},"encoding":{"y":{"datum":365,"type":"quantitative","scale":{"domain":[-12,312],"nice":false,"zero":false},"axis":{"values":[0,150,300],"tickCount":3,"labelOverlap":false,"title":"Rate"}},"text":{"field":"s"}}}
]},
{"width":250,"height":73,"encoding":{"x":{"field":"a","type":"ordinal","title":"Age","scale":{"type":"point","padding":0.68,"domain":["0-4","5-9","10-14","15-19","20-24","25-29","30-34","35-39","40-44","45-49","50-54","55-59","60-64","65-69","70-74","75-79","80-84",">85"]}}},"layer":[
{"data":{"name":"rates"},"transform":[{"filter":"datum.c==='Lithuania'"}],"mark":{"type":"area","color":"#cdc2ba","clip":true},"encoding":{"y":{"field":"lo","type":"quantitative","title":"Rate","scale":{"domain":[-12,312],"nice":false,"zero":false},"axis":{"values":[0,150,300],"tickCount":3,"labelOverlap":false,"title":"Rate"}},"y2":{"field":"hi"}}},
{"data":{"name":"rates"},"transform":[{"filter":"datum.c==='Lithuania'"}],"mark":{"type":"line","color":"black","strokeWidth":2.4,"clip":true},"encoding":{"y":{"field":"r","type":"quantitative","title":"Rate","scale":{"domain":[-12,312],"nice":false,"zero":false},"axis":{"values":[0,150,300],"tickCount":3,"labelOverlap":false,"title":"Rate"}}}},
{"data":{"name":"screen"},"transform":[{"filter":"datum.c==='Lithuania'"}],"mark":{"type":"rule","color":"black","strokeWidth":2,"strokeDash":[2,6]},"encoding":{"y":{"datum":300,"type":"quantitative","scale":{"domain":[-12,312],"nice":false,"zero":false},"axis":{"values":[0,150,300],"tickCount":3,"labelOverlap":false,"title":"Rate"}},"y2":{"datum":8}}},
{"data":{"name":"heads"},"transform":[{"filter":"datum.c==='Lithuania' && datum.k==='title'"}],"mark":{"type":"text","fontSize":12.5,"fontWeight":"bold","baseline":"middle","color":"black","dx":7},"encoding":{"y":{"datum":365,"type":"quantitative","scale":{"domain":[-12,312],"nice":false,"zero":false},"axis":{"values":[0,150,300],"tickCount":3,"labelOverlap":false,"title":"Rate"}},"text":{"field":"s"}}},
{"data":{"name":"heads"},"transform":[{"filter":"datum.c==='Lithuania' && datum.k==='star'"}],"mark":{"type":"text","font":"DejaVu Sans","fontSize":20,"fontWeight":"bold","baseline":"middle","color":"black"},"encoding":{"y":{"datum":365,"type":"quantitative","scale":{"domain":[-12,312],"nice":false,"zero":false},"axis":{"values":[0,150,300],"tickCount":3,"labelOverlap":false,"title":"Rate"}},"text":{"field":"s"}}}
]}
]},
{"width":560,"height":110,"view":{"stroke":null},
"data":{"values":[{"k":"a","t":"*Vertical lines: age groups considered in the screening program."},{"k":"s","t":"✱"},{"k":"b","t":"Screening Programs were initiated after 2005."}]},
"layer":[
{"transform":[{"filter":"datum.k==='a'"}],"mark":{"type":"text","align":"left","baseline":"middle","fontSize":19.4,"color":"black"},"encoding":{"x":{"datum":0,"type":"quantitative","scale":{"domain":[0,560],"nice":false,"zero":false},"axis":null},"y":{"datum":40,"type":"quantitative","scale":{"domain":[0,110],"reverse":true,"nice":false,"zero":false},"axis":null},"text":{"field":"t"}}},
{"transform":[{"filter":"datum.k==='s'"}],"mark":{"type":"text","align":"center","baseline":"middle","fontSize":18,"fontWeight":"bold","font":"DejaVu Sans","color":"black"},"encoding":{"x":{"datum":8,"type":"quantitative","scale":{"domain":[0,560],"nice":false,"zero":false},"axis":null},"y":{"datum":83,"type":"quantitative","scale":{"domain":[0,110],"reverse":true,"nice":false,"zero":false},"axis":null},"text":{"field":"t"}}},
{"transform":[{"filter":"datum.k==='b'"}],"mark":{"type":"text","align":"left","baseline":"middle","fontSize":17,"color":"black"},"encoding":{"x":{"datum":24,"type":"quantitative","scale":{"domain":[0,560],"nice":false,"zero":false},"axis":null},"y":{"datum":83,"type":"quantitative","scale":{"domain":[0,110],"reverse":true,"nice":false,"zero":false},"axis":null},"text":{"field":"t"}}}
]}
]}
]},
{"width":1250,"height":104,"view":{"stroke":null},
"data":{"values":[{"k":"band","t":"95% Prediction Interval \u00a0of \u00a0Breast Cancer mortality rates for 2020"},{"k":"rate","t":"Rate: Rate per 100,000 women-years"},{"k":"line","t":"Observed Breast Cancer mortality rates in 2010"}]},
"layer":[
{"transform":[{"filter":"datum.k==='band'"}],"mark":{"type":"rect","fill":"#aaaaaa","stroke":"#5ea08c","strokeWidth":3},"encoding":{"x":{"datum":2,"type":"quantitative","scale":{"domain":[0,1250],"nice":false,"zero":false},"axis":null},"x2":{"datum":52},"y":{"datum":22,"type":"quantitative","scale":{"domain":[0,104],"reverse":true,"nice":false,"zero":false},"axis":null},"y2":{"datum":62}}},
{"transform":[{"filter":"datum.k==='line'"}],"mark":{"type":"rule","color":"black","strokeWidth":5},"encoding":{"x":{"datum":18,"type":"quantitative","scale":{"domain":[0,1250],"nice":false,"zero":false},"axis":null},"x2":{"datum":63},"y":{"datum":93,"type":"quantitative","scale":{"domain":[0,104],"reverse":true,"nice":false,"zero":false},"axis":null}}},
{"transform":[{"filter":"datum.k==='band'"}],"mark":{"type":"text","align":"left","baseline":"middle","fontSize":20,"color":"black"},"encoding":{"x":{"datum":88,"type":"quantitative","scale":{"domain":[0,1250],"nice":false,"zero":false},"axis":null},"y":{"datum":42,"type":"quantitative","scale":{"domain":[0,104],"reverse":true,"nice":false,"zero":false},"axis":null},"text":{"field":"t"}}},
{"transform":[{"filter":"datum.k==='rate'"}],"mark":{"type":"text","align":"left","baseline":"middle","fontSize":19.5,"color":"black"},"encoding":{"x":{"datum":698,"type":"quantitative","scale":{"domain":[0,1250],"nice":false,"zero":false},"axis":null},"y":{"datum":42,"type":"quantitative","scale":{"domain":[0,104],"reverse":true,"nice":false,"zero":false},"axis":null},"text":{"field":"t"}}},
{"transform":[{"filter":"datum.k==='line'"}],"mark":{"type":"text","align":"left","baseline":"middle","fontSize":17.8,"color":"black"},"encoding":{"x":{"datum":110,"type":"quantitative","scale":{"domain":[0,1250],"nice":false,"zero":false},"axis":null},"y":{"datum":97,"type":"quantitative","scale":{"domain":[0,104],"reverse":true,"nice":false,"zero":false},"axis":null},"text":{"field":"t"}}}
]}
],
"spacing":8,
"config":{
"font":"Liberation Sans",
"view":{"stroke":"black","strokeWidth":1.2},
"title":{"fontSize":12.5,"fontWeight":"bold","frame":"group","color":"black","anchor":"middle"},
"axis":{"grid":false,"domainColor":"black","tickColor":"black","labelColor":"#222222","titleColor":"black","tickSize":4,"titleFontWeight":"normal","titleFontSize":11,"labelFontSize":8.5,"labelOverlap":false,"labelFlush":false},
"axisX":{"labelAngle":270,"labelPadding":2,"titlePadding":8,"labelExpr":"replace(datum.label, '-', '−')"},
"axisY":{"labelAngle":270,"labelPadding":7,"titlePadding":8}
}
}
